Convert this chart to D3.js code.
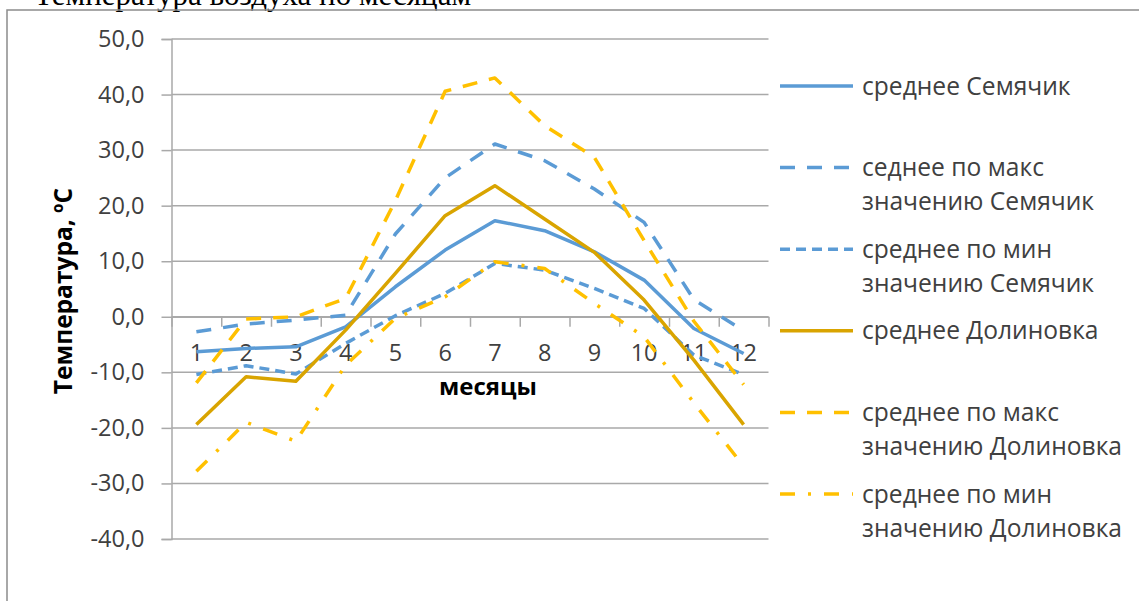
<!DOCTYPE html>
<html>
<head>
<meta charset="utf-8">
<script src="https://cdn.jsdelivr.net/npm/d3@7"></script>
<style>
  html, body { margin: 0; padding: 0; background: #fff; }
  svg { display: block; }
</style>
</head>
<body>
<svg id="chart" width="1139" height="601"></svg>
<script>
// Months on the category axis
const months = [1, 2, 3, 4, 5, 6, 7, 8, 9, 10, 11, 12];

// Monthly temperatures, °C
const semAvg  = [-6.3, -5.7, -5.4, -1.8, 5.4, 12.0, 17.3, 15.5, 11.7, 6.6, -2.1, -6.6];
const semMax  = [-2.7, -1.3, -0.6, 0.3, 14.9, 25.0, 31.1, 28.1, 23.0, 17.0, 3.1, -2.5];
const semMin  = [-10.4, -8.8, -10.3, -4.8, 0.2, 4.2, 9.6, 8.4, 5.1, 1.5, -6.9, -10.4];
const dolAvg  = [-19.4, -10.8, -11.6, -2.4, 7.8, 18.2, 23.6, 17.6, 11.6, 3.0, -7.8, -19.4];
const dolMax  = [-11.9, -0.4, 0.0, 3.3, 20.9, 40.6, 43.0, 34.4, 28.7, 13.7, -0.8, -12.2];
const dolMin  = [-27.8, -19.0, -22.4, -8.7, -0.3, 3.6, 9.9, 8.7, 2.4, -3.6, -15.5, -26.9];

// Value axis ticks
const yTicks = [-40, -30, -20, -10, 0, 10, 20, 30, 40, 50];

// Series names as shown in the legend (lines of each entry)
const seriesNames = [
  ["среднее Семячик"],
  ["седнее по макс", "значению Семячик"],
  ["среднее по мин", "значению Семячик"],
  ["среднее Долиновка"],
  ["среднее по макс", "значению Долиновка"],
  ["среднее по мин", "значению Долиновка"]
];

const BLUE = "#5B9BD5", GOLD = "#D9A400", AMBER = "#FFC000";
const series = [
  { values: semAvg, color: BLUE,  dash: null },
  { values: semMax, color: BLUE,  dash: "15,12" },
  { values: semMin, color: BLUE,  dash: "10,6" },
  { values: dolAvg, color: GOLD,  dash: null },
  { values: dolMax, color: AMBER, dash: "15,12" },
  { values: dolMin, color: AMBER, dash: "15,13,3,13" }
].map((s, i) => ({ ...s, name: seriesNames[i] }));

const FONT = "'Open Sans', 'DejaVu Sans', sans-serif";
const svg = d3.select("#chart");

// Heading line above the chart frame (only its lower part fits on the page)
svg.append("text")
  .attr("x", 34).attr("y", 5)
  .attr("font-family", "'Liberation Serif', 'Times New Roman', serif")
  .attr("font-size", 31)
  .attr("fill", "#000")
  .text("Температура воздуха по месяцам");

// Chart frame
svg.append("rect")
  .attr("x", 7).attr("y", 10)
  .attr("width", 1160).attr("height", 620)
  .attr("fill", "none")
  .attr("stroke", "#8c8c8c")
  .attr("stroke-width", 1.5);

const plot = { left: 171.5, right: 768.5, top: 39, bottom: 539 };

const x = d3.scaleBand().domain(months).range([plot.left, plot.right]).padding(0);
const xEdge = d3.scaleLinear().domain([0, months.length]).range([plot.left, plot.right]);
const y = d3.scaleLinear().domain([d3.min(yTicks), d3.max(yTicks)]).range([plot.bottom, plot.top]);
const fmt = d => d.toFixed(1).replace(".", ",");

const GRID = "#a9a9a9";

// Horizontal gridlines
svg.append("g").selectAll("line").data(yTicks).join("line")
  .attr("x1", plot.left).attr("x2", plot.right)
  .attr("y1", d => y(d)).attr("y2", d => y(d))
  .attr("stroke", GRID).attr("stroke-width", 1.5);

// Value axis
const yAxisG = svg.append("g")
  .attr("transform", `translate(${plot.left},0)`)
  .call(d3.axisLeft(y).tickValues(yTicks).tickSize(10).tickPadding(17).tickFormat(fmt));
yAxisG.select(".domain").attr("stroke", GRID).attr("stroke-width", 1.5);
yAxisG.selectAll(".tick line").attr("stroke", GRID).attr("stroke-width", 1.5);
yAxisG.selectAll(".tick text")
  .attr("font-family", FONT).attr("font-size", 23.5).attr("fill", "#404040");

// Category axis drawn through zero: tick marks between categories
const xTickG = svg.append("g")
  .attr("transform", `translate(0,${y(0)})`)
  .call(d3.axisBottom(xEdge).ticks(months.length).tickSize(10).tickSizeOuter(0).tickFormat(""));
xTickG.select(".domain").attr("stroke", GRID).attr("stroke-width", 1.5);
xTickG.selectAll(".tick line").attr("stroke", GRID).attr("stroke-width", 1.5);

// Category labels
const xLabG = svg.append("g")
  .attr("transform", `translate(0,${y(0)})`)
  .call(d3.axisBottom(x).tickSize(0).tickPadding(28));
xLabG.select(".domain").remove();
xLabG.selectAll(".tick text")
  .attr("font-family", FONT).attr("font-size", 23.5).attr("fill", "#404040");

// Series lines
const line = d3.line()
  .x((d, i) => x(months[i]) + x.bandwidth() / 2)
  .y(d => y(d));

svg.append("g").selectAll("path").data(series).join("path")
  .attr("d", d => line(d.values))
  .attr("fill", "none")
  .attr("stroke", d => d.color)
  .attr("stroke-width", 3.5)
  .attr("stroke-linejoin", "round")
  .attr("stroke-dasharray", d => d.dash);

// Axis titles
svg.append("text")
  .attr("x", 488).attr("y", 385)
  .attr("text-anchor", "middle").attr("dominant-baseline", "central")
  .attr("font-family", FONT).attr("font-size", 24).attr("font-weight", "bold")
  .attr("fill", "#000")
  .text("месяцы");

svg.append("text")
  .attr("transform", "translate(62,291) rotate(-90)")
  .attr("text-anchor", "middle").attr("dominant-baseline", "central")
  .attr("font-family", FONT).attr("font-size", 24.5).attr("font-weight", "bold")
  .attr("fill", "#000")
  .text("Температура, ºС");

// Legend
const legend = svg.append("g");
const entries = legend.selectAll("g").data(series).join("g")
  .attr("transform", (d, i) => `translate(780,${86 + i * 81.6})`);
entries.append("line")
  .attr("x1", 0).attr("x2", 73).attr("y1", 0).attr("y2", 0)
  .attr("stroke", d => d.color)
  .attr("stroke-width", 3.5)
  .attr("stroke-dasharray", d => d.dash);
entries.each(function (d) {
  const t = d3.select(this).append("text")
    .attr("x", 82).attr("y", 0)
    .attr("font-family", FONT).attr("font-size", 24.6).attr("fill", "#404040");
  d.name.forEach((ln, k) => {
    t.append("tspan").attr("x", 82).attr("y", k * 34).attr("dy", "0.35em").text(ln);
  });
});
</script>
</body>
</html>
